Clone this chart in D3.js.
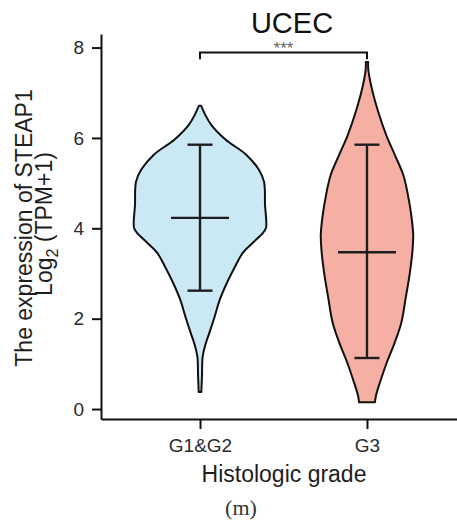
<!DOCTYPE html>
<html>
<head>
<meta charset="utf-8">
<script src="https://cdn.jsdelivr.net/npm/d3@7/dist/d3.min.js"></script>
<style>
  html, body { margin: 0; padding: 0; background: #fff; }
  svg { display: block; }
  text { font-family: "Liberation Sans", Arial, Helvetica, sans-serif; }
</style>
</head>
<body>
<svg id="chart" width="457" height="521"></svg>
<script>
// Histologic grade groups
const categories = ["G1&G2", "G3"];

// Kernel density outlines: [expression value, relative density]
const densityG12 = [
  [6.71, 0.00], [6.51, 0.08], [6.29, 0.17], [5.96, 0.39], [5.63, 0.70],
  [5.30, 0.89], [5.03, 0.97], [4.52, 0.985], [4.01, 1.00], [3.90, 0.955],
  [3.68, 0.80], [3.46, 0.65], [3.15, 0.53], [2.80, 0.41], [2.42, 0.30],
  [2.04, 0.22], [1.68, 0.14], [1.42, 0.08], [1.16, 0.04], [0.76, 0.03],
  [0.38, 0.02]
];
const densityG3 = [
  [7.68, 0.00], [7.51, 0.02], [7.11, 0.07], [6.58, 0.17], [6.07, 0.29],
  [5.63, 0.42], [5.18, 0.55], [4.74, 0.62], [4.30, 0.67], [3.86, 0.70],
  [3.52, 0.69], [3.02, 0.65], [2.49, 0.59], [1.91, 0.52], [1.47, 0.42],
  [1.03, 0.30], [0.65, 0.21], [0.32, 0.14], [0.15, 0.12]
];
const densities = [densityG12, densityG3];

// Summary lines: median and whisker ends per group
const medians = [4.23, 3.47];
const upperWhiskers = [5.85, 5.85];
const lowerWhiskers = [2.62, 1.13];

// Axis ticks and significance annotation
const yTicks = [0, 2, 4, 6, 8];
const yDomain = [-0.22, 8.30];
const bracketLevel = 7.89;
const bracketTip = 7.74;
const significance = "***";

const fills = ["#cbe8f5", "#f6b0a3"];

const svg = d3.select("#chart");

const x = d3.scalePoint()
  .domain(categories)
  .range([101, 466])
  .padding(0.593);

const y = d3.scaleLinear()
  .domain(yDomain)
  .range([419, 34]);

const w = d3.scaleLinear()
  .domain([0, 1])
  .range([0, 66]);

// Violins
const violin = (cx) => d3.area()
  .curve(d3.curveCatmullRom.alpha(0.5))
  .y(d => y(d[0]))
  .x0(d => cx - Math.max(w(d[1]), 1.2))
  .x1(d => cx + Math.max(w(d[1]), 1.2));

categories.forEach((c, i) => {
  svg.append("path")
    .datum(densities[i])
    .attr("d", violin(x(c)))
    .attr("fill", fills[i])
    .attr("stroke", "#111")
    .attr("stroke-width", 2)
    .attr("stroke-linejoin", "round");
});

// Median and whisker bars
const capHalf = 12.5, medHalf = 29;
categories.forEach((c, i) => {
  const cx = x(c);
  const g = svg.append("g")
    .attr("stroke", "#1e1e1e")
    .attr("stroke-width", 2.4);
  g.append("line")
    .attr("x1", cx).attr("x2", cx)
    .attr("y1", y(lowerWhiskers[i])).attr("y2", y(upperWhiskers[i]));
  g.append("line")
    .attr("x1", cx - capHalf).attr("x2", cx + capHalf)
    .attr("y1", y(upperWhiskers[i])).attr("y2", y(upperWhiskers[i]));
  g.append("line")
    .attr("x1", cx - capHalf).attr("x2", cx + capHalf)
    .attr("y1", y(lowerWhiskers[i])).attr("y2", y(lowerWhiskers[i]));
  g.append("line")
    .attr("x1", cx - medHalf).attr("x2", cx + medHalf)
    .attr("y1", y(medians[i])).attr("y2", y(medians[i]));
});

// Axes
const yAxis = svg.append("g")
  .attr("transform", "translate(101,0)")
  .call(d3.axisLeft(y).tickValues(yTicks).tickSize(9).tickSizeOuter(0).tickPadding(8));
const xAxis = svg.append("g")
  .attr("transform", "translate(0,419)")
  .call(d3.axisBottom(x).tickSize(10).tickSizeOuter(0).tickPadding(10));

[yAxis, xAxis].forEach(a => {
  a.select(".domain").attr("stroke", "#111").attr("stroke-width", 2);
  a.selectAll(".tick line").attr("stroke", "#111").attr("stroke-width", 2);
  a.selectAll(".tick text")
    .attr("fill", "#2a2a2a")
    .style("font-family", "'Liberation Sans', Arial, sans-serif")
    .style("font-size", "19px");
});

// Significance bracket
const bx0 = x(categories[0]), bx1 = x(categories[1]);
svg.append("path")
  .attr("d", `M${bx0},${y(bracketTip)}V${y(bracketLevel)}H${bx1}V${y(bracketTip)}`)
  .attr("fill", "none")
  .attr("stroke", "#111")
  .attr("stroke-width", 2);
svg.append("text")
  .attr("x", (bx0 + bx1) / 2)
  .attr("y", 54)
  .attr("text-anchor", "middle")
  .attr("fill", "#666")
  .style("font-size", "17px")
  .text(significance);

// Title
svg.append("text")
  .attr("x", 292)
  .attr("y", 33)
  .attr("text-anchor", "middle")
  .attr("fill", "#111")
  .style("font-size", "29px")
  .text("UCEC");

// Axis titles
svg.append("text")
  .attr("x", 284)
  .attr("y", 482)
  .attr("text-anchor", "middle")
  .attr("fill", "#1e1e1e")
  .style("font-size", "23px")
  .text("Histologic grade");

svg.append("text")
  .attr("transform", "translate(32,228) rotate(-90)")
  .attr("text-anchor", "middle")
  .attr("fill", "#1e1e1e")
  .style("font-size", "23px")
  .text("The expression of STEAP1");

const yl2 = svg.append("text")
  .attr("transform", "translate(52,224) rotate(-90)")
  .attr("text-anchor", "middle")
  .attr("fill", "#1e1e1e")
  .style("font-size", "23px");
yl2.append("tspan").text("Log");
yl2.append("tspan").attr("dy", 6).style("font-size", "16px").text("2");
yl2.append("tspan").attr("dy", -6).text(" (TPM+1)");

// Panel caption
svg.append("text")
  .attr("x", 241)
  .attr("y", 515)
  .attr("text-anchor", "middle")
  .attr("fill", "#333")
  .style("font-family", "'Liberation Serif', 'Times New Roman', serif")
  .style("font-size", "22px")
  .text("(m)");
</script>
</body>
</html>
